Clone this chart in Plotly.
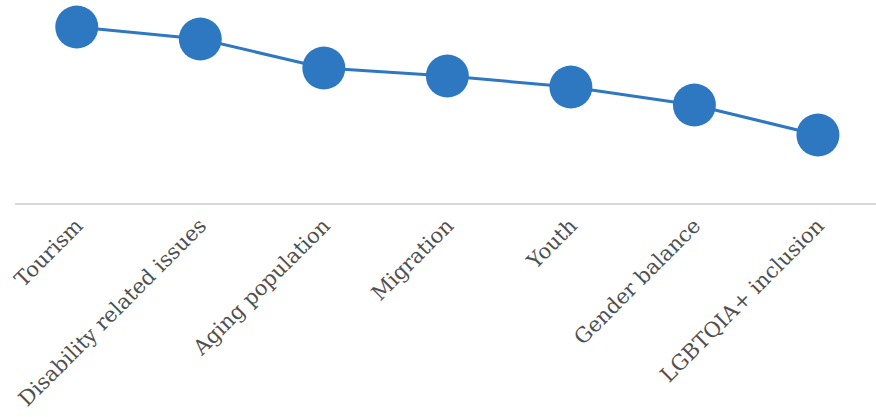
import plotly.graph_objects as go

categories = ["Tourism", "Disability related issues", "Aging population", "Migration",
              "Youth", "Gender balance", "LGBTQIA+ inclusion"]
values = [3.52, 3.28, 2.70, 2.54, 2.32, 1.96, 1.36]

fig = go.Figure()
fig.add_trace(go.Scatter(
    x=categories, y=values, mode="lines+markers",
    line=dict(color="#2E78C2", width=3),
    marker=dict(size=43, color="#2E78C2", line=dict(width=0)),
    cliponaxis=False,
))

fig.update_layout(
    width=876, height=417,
    margin=dict(l=15, r=0, t=3, b=214),
    plot_bgcolor="white", paper_bgcolor="white",
    showlegend=False,
    font=dict(family="DejaVu Serif", size=21, color="#505050"),
    xaxis=dict(
        type="category", range=[-0.5, 6.47],
        showline=True, linecolor="#D9D9D9", linewidth=2,
        showgrid=False, ticks="", tickangle=-45,
        tickfont=dict(family="DejaVu Serif", size=21, color="#505050"),
    ),
    yaxis=dict(range=[0, 4], visible=False, showgrid=False, zeroline=False),
)

fig.write_html("out.html")
